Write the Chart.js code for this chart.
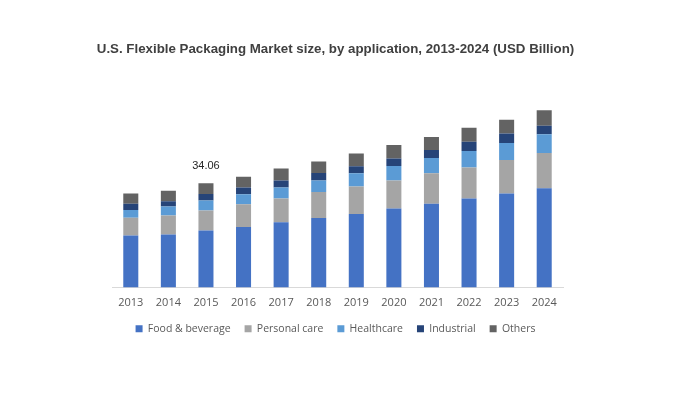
<!DOCTYPE html>
<html>
<head>
<meta charset="utf-8">
<script src="https://cdn.jsdelivr.net/npm/chart.js@4/dist/chart.umd.min.js"></script>
<style>
  html, body { margin: 0; padding: 0; background: #fff; }
  #wrap { width: 693px; height: 411px; }
</style>
</head>
<body>
<div id="wrap"><canvas id="chart"></canvas></div>
<script>
// values (USD Billion)
const years = ['2013', '2014', '2015', '2016', '2017', '2018', '2019', '2020', '2021', '2022', '2023', '2024'];
const foodBeverage = [17.0, 17.3, 18.66, 19.8, 21.3, 22.7, 24.0, 25.8, 27.4, 29.1, 30.75, 32.4];
const personalCare = [5.8, 6.2, 6.5, 7.4, 7.8, 8.5, 9.0, 9.2, 9.9, 10.1, 10.9, 11.6];
const healthcare = [2.5, 3.0, 3.3, 3.3, 3.6, 3.8, 4.3, 4.7, 5.0, 5.4, 5.6, 6.1];
const industrial = [2.1, 1.65, 2.1, 2.2, 2.3, 2.45, 2.3, 2.5, 2.6, 3.0, 3.1, 2.8];
const others = [3.3, 3.5, 3.5, 3.5, 3.9, 3.7, 4.2, 4.4, 4.3, 4.6, 4.5, 5.0];
const labelledYears = ['2015'];

const seriesNames = ['Food & beverage', 'Personal care', 'Healthcare', 'Industrial', 'Others'];
const seriesColors = ['#4472C4', '#A5A5A5', '#5B9BD5', '#264478', '#636363'];
const seriesData = [foodBeverage, personalCare, healthcare, industrial, others];

// writes the stack total above the chosen bars
const totalLabel = {
  id: 'totalLabel',
  afterDatasetsDraw(chart) {
    const ctx = chart.ctx;
    const x = chart.scales.x;
    const y = chart.scales.y;
    ctx.save();
    ctx.font = '11px "Liberation Sans", Arial, sans-serif';
    ctx.fillStyle = '#262626';
    ctx.textAlign = 'center';
    ctx.textBaseline = 'middle';
    labelledYears.forEach(yr => {
      const i = years.indexOf(yr);
      let total = 0;
      seriesData.forEach(s => total += s[i]);
      ctx.fillText(total.toFixed(2), x.getPixelForValue(i), y.getPixelForValue(total) - 17);
    });
    ctx.restore();
  }
};

const ctx = document.getElementById('chart').getContext('2d');
new Chart(ctx, {
  type: 'bar',
  data: {
    labels: years,
    datasets: seriesNames.map((name, i) => ({
      label: name,
      data: seriesData[i],
      backgroundColor: seriesColors[i],
      borderWidth: 0,
      categoryPercentage: 1,
      barPercentage: 0.4
    }))
  },
  options: {
    responsive: true,
    maintainAspectRatio: false,
    animation: false,
    layout: { padding: { left: 94, right: 116, top: 0, bottom: 67 } },
    plugins: {
      title: {
        display: true,
        text: 'U.S. Flexible Packaging Market size, by application, 2013-2024 (USD Billion)',
        color: '#404040',
        font: { family: '"Liberation Sans", Arial, sans-serif', size: 13.3, weight: 'bold' },
        padding: { top: 41, bottom: 18.2 }
      },
      legend: {
        position: 'bottom',
        labels: {
          boxWidth: 7,
          boxHeight: 7,
          padding: 14,
          color: '#595959',
          font: { family: '"Open Sans", sans-serif', size: 10.5 }
        }
      },
      tooltip: { enabled: false }
    },
    scales: {
      x: {
        stacked: true,
        grid: { display: false, drawTicks: false },
        border: { display: true, color: '#D9D9D9' },
        ticks: { color: '#595959', padding: 8.5, font: { family: '"Open Sans", sans-serif', size: 11 } },
        afterFit(scale) { scale.height = 22; }
      },
      y: {
        stacked: true,
        min: 0,
        max: 69.4,
        grid: { display: false, drawTicks: false },
        border: { display: false },
        ticks: { display: false },
        afterFit(scale) { scale.width = 18; }
      },
      yRight: {
        position: 'right',
        min: 0,
        max: 69.4,
        grid: { display: false, drawTicks: false },
        border: { display: false },
        ticks: { display: false },
        afterFit(scale) { scale.width = 14; }
      }
    }
  },
  plugins: [totalLabel]
});
</script>
</body>
</html>
